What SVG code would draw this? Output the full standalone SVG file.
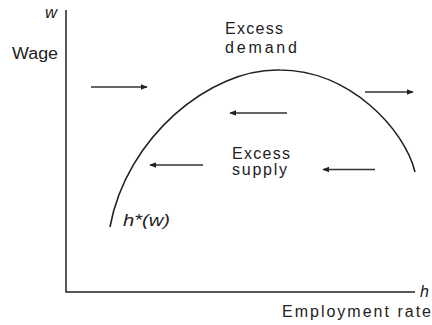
<svg xmlns="http://www.w3.org/2000/svg" width="432" height="325" viewBox="0 0 432 325">
<style>
.ax{stroke:#222;stroke-width:1.5;fill:none}
.cv{stroke:#222;stroke-width:1.6;fill:none}
.ar{stroke:#333;stroke-width:1.3;fill:none;marker-end:url(#ah)}
text{font-family:"Liberation Sans",Arial,sans-serif;fill:#222;font-size:16px}
.it{font-style:italic}
</style>
<defs>
<marker id="ah" viewBox="0 0 10 10" refX="9" refY="5" markerWidth="7" markerHeight="7" markerUnits="userSpaceOnUse" orient="auto">
<path d="M0,1 L10,5 L0,9 z" fill="#222"/>
</marker>
</defs>
<rect width="432" height="325" fill="#fff"/>
<g id="axes">
<path class="ax" d="M66,10 L66,292 L415,292"/>
</g>
<g id="curve">
<path class="cv" d="M110,227 C126,138 210,68 280,70 C350,70 405,130 415,172"/>
</g>
<g id="connectors">
<line class="ar" x1="91" y1="87" x2="147" y2="87"/>
<line class="ar" x1="365" y1="92" x2="413" y2="92"/>
<line class="ar" x1="287" y1="113" x2="230" y2="113"/>
<line class="ar" x1="203" y1="165" x2="150" y2="165"/>
<line class="ar" x1="375" y1="169.5" x2="323" y2="169.5"/>
</g>
<g id="labels">
<text class="it" x="45" y="18" font-size="15" textLength="12" lengthAdjust="spacingAndGlyphs">w</text>
<text x="12" y="59" textLength="46" lengthAdjust="spacingAndGlyphs">Wage</text>
<text x="225" y="34" textLength="58" lengthAdjust="spacing">Excess</text>
<text x="225" y="53" textLength="72" lengthAdjust="spacing">demand</text>
<text x="232" y="159" textLength="58" lengthAdjust="spacing">Excess</text>
<text x="232" y="175" textLength="55" lengthAdjust="spacing">supply</text>
<text class="it" x="123" y="226" font-size="15" textLength="47" lengthAdjust="spacingAndGlyphs">h*(w)</text>
<text class="it" x="420" y="297" font-size="15">h</text>
<text x="282" y="317" textLength="149" lengthAdjust="spacing">Employment rate</text>
</g>
</svg>
